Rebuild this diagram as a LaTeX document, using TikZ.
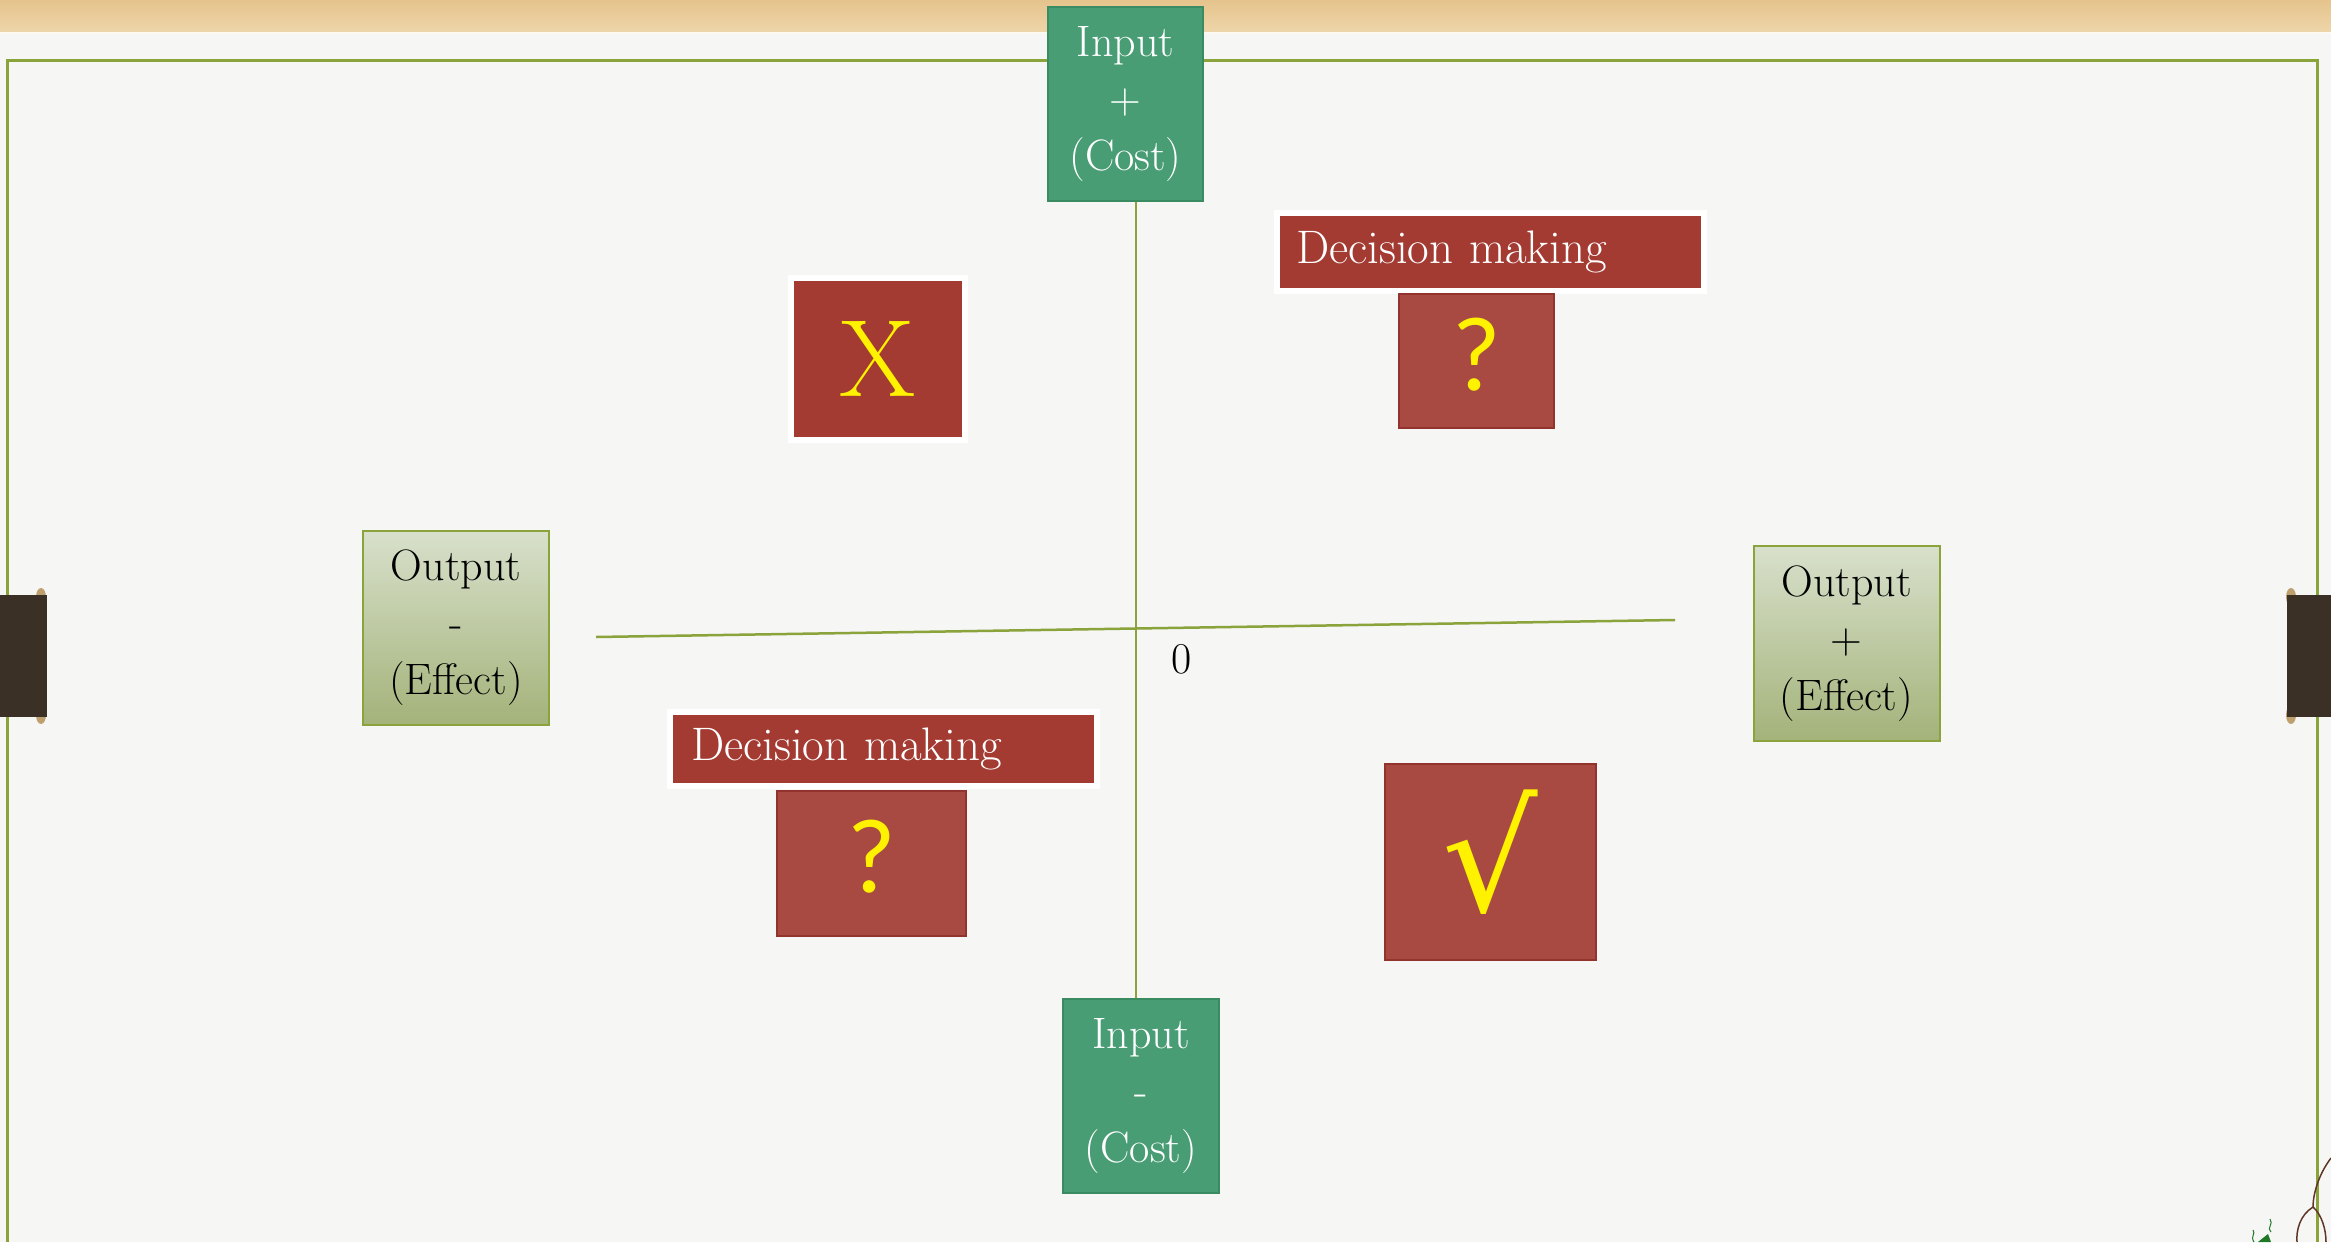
\documentclass[tikz,border=0pt]{standalone}
\usepackage{fontspec}
\newfontfamily\symfont{DejaVu Serif}
\newfontfamily\askfont{Lato}
\usetikzlibrary{calc}

\definecolor{paper}{RGB}{246,246,245}
\definecolor{bandtop}{RGB}{229,195,140}
\definecolor{bandbot}{RGB}{238,214,170}
\definecolor{olive}{RGB}{138,163,58}
\definecolor{teal}{RGB}{72,157,117}
\definecolor{tealedge}{RGB}{58,138,98}
\definecolor{outtop}{RGB}{216,224,203}
\definecolor{outbot}{RGB}{163,179,122}
\definecolor{brick}{RGB}{163,59,51}
\definecolor{brickl}{RGB}{168,74,66}
\definecolor{brickedge}{RGB}{146,52,45}
\definecolor{clipdark}{RGB}{58,48,38}
\definecolor{clipknob}{RGB}{190,160,110}
\definecolor{twig}{RGB}{95,55,40}
\definecolor{leaf}{RGB}{30,120,40}

\tikzset{
  txt/.style={font=\fontsize{44}{57}\selectfont, align=center, inner sep=0pt},
  inbox/.style={txt, fill=teal, draw=tealedge, line width=2pt, text=white},
  outbox/.style={txt, top color=outtop, bottom color=outbot, draw=olive, line width=2pt, text=black},
  haloed/.style={preaction={draw=white, line width=12pt}},
  markbox/.style={fill=brick, inner sep=0pt, text=yellow, haloed},
  askbox/.style={fill=brickl, draw=brickedge, line width=1.5pt, inner sep=0pt, text=yellow},
  decbar/.style={txt, font=\fontsize{47}{57}\selectfont, fill=brick, text=white, haloed, align=left},
  axis/.style={draw=olive, line width=2.5pt},
  clipbar/.style={fill=clipdark},
  knob/.style={fill=clipknob},
}

\begin{document}
\begin{tikzpicture}[x=1pt, y=-1pt]
\useasboundingbox (0,0) rectangle (2331,1242);
\fill[paper] (0,0) rectangle (2331,1242);

% header band
\shade[top color=bandtop, bottom color=bandbot] (0,0) rectangle (2331,32);
\draw[white!85!bandbot, line width=2pt] (0,33) -- (2331,33);

% page frame
\draw[olive, line width=3pt] (7,1242) -- (7,60) -- (2317,60) -- (2317,1242);

% binder clips
\fill[knob] (41,597) ellipse [x radius=5, y radius=9];
\fill[knob] (41,715) ellipse [x radius=5, y radius=9];
\fill[clipbar] (0,595) rectangle (47,717);
\fill[knob] (2291,597) ellipse [x radius=5, y radius=9];
\fill[knob] (2291,715) ellipse [x radius=5, y radius=9];
\fill[clipbar] (2287,595) rectangle (2331,717);

% corner sketch
\draw[twig, line width=1.5pt] (2331,1158) .. controls (2318,1175) and (2313,1195) .. (2313,1207);
\draw[twig, line width=1.5pt] (2313,1207) .. controls (2300,1215) and (2296,1230) .. (2297,1242);
\draw[twig, line width=1.5pt] (2313,1207) .. controls (2322,1215) and (2326,1230) .. (2326,1242);
\fill[leaf] (2258,1242) -- (2268,1234) -- (2271,1242) -- cycle;
\draw[leaf, line width=1pt] (2271,1232) .. controls (2266,1228) and (2274,1224) .. (2270,1219);
\draw[leaf, line width=1pt] (2254,1242) .. controls (2250,1236) and (2256,1234) .. (2253,1230);

% axes
\coordinate (vx) at (1136,0);
\coordinate (hl) at (596,637);
\coordinate (hr) at (1675,620);

% axis end boxes
\node[inbox, minimum width=155pt, minimum height=194pt] (inplus) at (1125.5,104) {Input\\+\\(Cost)};
\node[inbox, minimum width=156pt, minimum height=194pt] (inminus) at (1141,1096) {Input\\-\\(Cost)};
\node[outbox, minimum width=186pt, minimum height=194pt] (outminus) at (456,628) {Output\\-\\(Effect)};
\node[outbox, minimum width=186pt, minimum height=195pt] (outplus) at (1846.5,643.5) {Output\\+\\(Effect)};

\draw[axis] (inplus.south -| vx) -- (inminus.north -| vx);
\draw[axis] (hl) -- (hr);
\node[txt] (origin) at (1182,659) {0};

% quadrant markers
\node[markbox, minimum width=168pt, minimum height=156pt, font=\fontsize{110}{110}\selectfont] (cross) at (878,359) {X};

\node[decbar, minimum width=421pt, minimum height=72pt, text width=389pt, inner xsep=16pt] (dectop) at (1490.5,252) {Decision making};
\node[askbox, minimum width=155pt, minimum height=134pt, font=\askfont\fontsize{100}{100}\selectfont] (asktop) at (1476.5,361) {\raisebox{14pt}{?}};

\node[decbar, minimum width=421pt, minimum height=68pt, text width=385pt, inner xsep=18pt] (decbot) at (883.5,749) {Decision making};
\node[askbox, minimum width=189pt, minimum height=145pt, font=\askfont\fontsize{100}{100}\selectfont] (askbot) at (871.5,863.5) {\raisebox{14pt}{?}};

\node[askbox, minimum width=211pt, minimum height=196pt, font=\symfont\fontsize{150}{150}\selectfont] (tick) at (1490.5,862) {\raisebox{22pt}{√}};
\end{tikzpicture}
\end{document}
